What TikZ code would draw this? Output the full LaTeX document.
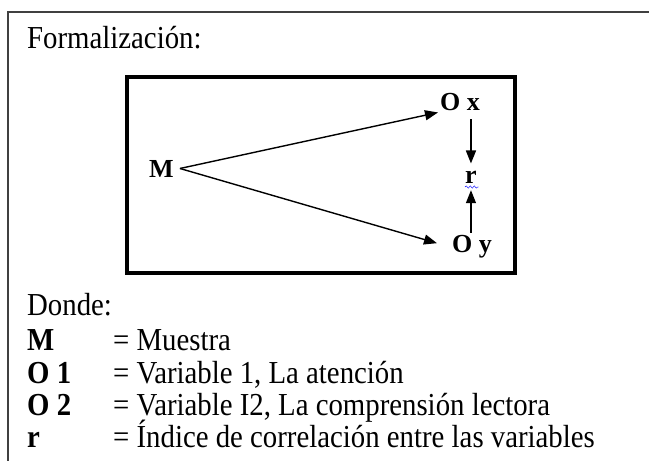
\documentclass[tikz,border=0pt]{standalone}
\usepackage{fontspec}
\setmainfont[FakeStretch=0.9]{Liberation Serif}
\newfontfamily\esquemafont{Liberation Serif}
\usetikzlibrary{arrows.meta, positioning, calc, decorations.pathmorphing}

\begin{document}
\begin{tikzpicture}[x=1pt, y=-1pt, >={Triangle[length=13pt, width=10pt]},
        txt/.style={anchor=base west, inner sep=0pt, font=\fontsize{32}{36}\selectfont},
        lbl/.style={anchor=base west, inner sep=0pt, font=\fontsize{32}{36}\selectfont\bfseries},
        var/.style={anchor=base west, inner sep=2pt, font=\esquemafont\fontsize{26}{30}\selectfont\bfseries},
        flecha/.style={->, line width=1.4pt}]
        \useasboundingbox (0,0) rectangle (649,461);
        % marco exterior (solo borde superior e izquierdo visibles)
        \draw [line width=2pt, black!75] (8,461) -- (8,12) -- (649,12);
        \node [txt] (titulo) at (27,48) {Formalización:};

        % esquema
        \draw [line width=4pt] (127,77) rectangle (515,273);
        \node [var] (m) at (147,177) {M};
        \node [var] (ox) at (438,110) {O x};
        \node [var] (oy) at (450,252) {O y};
        \node [var, inner ysep=7pt] (r) at (463,183) {r};
        \draw [blue, decorate, decoration={snake, amplitude=1.2pt, segment length=4pt}]
            ($(r.base west)+(2,4)$) -- ($(r.base east)+(0,4)$);

        \draw [flecha] ($(m.east)+(4,0)$) -- (ox.south west);
        \draw [flecha] ($(m.east)+(4,0)$) -- ($(oy.west)+(-13,-3)$);
        \draw [flecha] ($(ox.south -| r)+(0,7)$) -- (r.north);
        \draw [flecha] (oy.north -| r) -- (r.south);

        % leyenda
        \node [txt] (donde) at (27,315) {Donde:};
        \node [lbl] (lm) at (27,350) {M};
        \node [txt] (dm) at (113,350) {= Muestra};
        \node [lbl] (lo1) at (27,383) {O 1};
        \node [txt] (do1) at (113,383) {= Variable 1, La atención};
        \node [lbl] (lo2) at (27,415) {O 2};
        \node [txt] (do2) at (113,415) {= Variable I2, La comprensión lectora};
        \node [lbl] (lr) at (27,447) {r};
        \node [txt] (dr) at (113,447) {= Índice de correlación entre las variables};
    \end{tikzpicture}
\end{document}
